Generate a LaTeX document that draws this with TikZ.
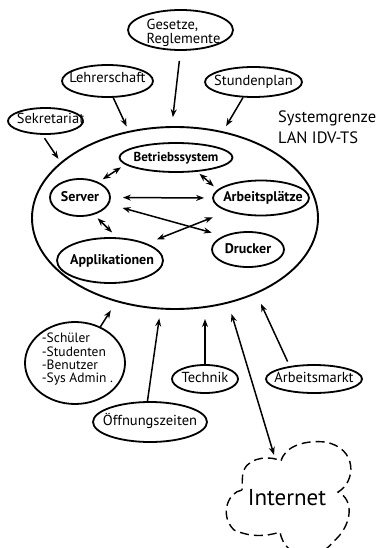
\documentclass[tikz,border=0pt]{standalone}
\usepackage{fontspec}
\setmainfont{PT Sans}
\usetikzlibrary{shapes.geometric,arrows.meta}
\newcommand\myofont{\fontsize{14.5}{14}\selectfont}
\newcommand\myifont{\fontsize{14}{14}\selectfont\bfseries}
\newcommand\myifontb{\fontsize{13}{14}\selectfont\bfseries}
\begin{document}
\begin{tikzpicture}[x=1pt,y=-1pt,
  bub/.style={ellipse, draw, line width=1.8pt, inner sep=0pt},
  lbl/.style={inner sep=0pt, text height=0.7em, text depth=0pt},
  olbl/.style={lbl, font=\myofont},
  ilbl/.style={lbl, font=\myifont},
  mlbl/.style={inner sep=0pt, align=left},
  arr/.style={line width=1.5pt, -{Stealth[length=8pt,width=6pt]}},
  dbl/.style={line width=1.5pt, {Stealth[length=8pt,width=6pt]}-{Stealth[length=8pt,width=6pt]}},
  cloudline/.style={line width=1.4pt, dash pattern=on 9pt off 5pt},
]
\useasboundingbox (0,0) rectangle (380,548);

% system boundary
\node[bub, line width=1.9pt, minimum width=286pt, minimum height=182pt] (main) at (175,218) {};

% inner nodes
\node[bub, minimum width=113pt, minimum height=29pt,
  label={[lbl, font=\myifontb]center:Betriebssystem}] (bet) at (176,157.5) {};
\node[bub, minimum width=60pt, minimum height=37pt,
  label={[ilbl]center:Server}] (srv) at (80,197.5) {};
\node[bub, minimum width=96pt, minimum height=35pt,
  label={[ilbl, xshift=2pt]center:Arbeitsplätze}] (arb) at (261,198) {};
\node[bub, minimum width=106pt, minimum height=45pt,
  label={[ilbl, xshift=2pt]center:Applikationen}] (app) at (110,260.5) {};
\node[bub, minimum width=72pt, minimum height=35pt,
  label={[ilbl]center:Drucker}] (dru) at (248,249.5) {};

% outer nodes
\node[bub, minimum width=105pt, minimum height=40pt,
  label={[mlbl, font=\myofont, xshift=3pt, yshift=-2.5pt]center:{Gesetze,\\Reglemente}}] (ges) at (180.5,30) {};
\node[bub, minimum width=91pt, minimum height=32pt,
  label={[olbl, yshift=1.5pt]center:Lehrerschaft}] (leh) at (107.5,81) {};
\node[bub, minimum width=97pt, minimum height=30pt,
  label={[olbl]center:Stundenplan}] (stu) at (253.5,82) {};
\node[bub, minimum width=75pt, minimum height=26pt,
  label={[olbl, xshift=5pt, yshift=1pt]center:Sekretariat}] (sek) at (45.5,121) {};
\node[bub, minimum width=100pt, minimum height=82pt,
  label={[mlbl, font=\fontsize{13.5}{13.3}\selectfont, xshift=2.5pt, yshift=3.5pt]center:{-Schüler\\-Studenten\\-Benutzer\\-Sys Admin .}}] (sch) at (75,363) {};
\node[bub, minimum width=114pt, minimum height=40pt,
  label={[olbl]center:Öffnungszeiten}] (off) at (150,422) {};
\node[bub, minimum width=66pt, minimum height=28pt,
  label={[olbl]center:Technik}] (tec) at (205,379) {};
\node[bub, minimum width=96pt, minimum height=28pt,
  label={[olbl]center:Arbeitsmarkt}] (arm) at (314,379) {};

% texts
\node[font=\fontsize{16.5}{21}\selectfont, align=left, anchor=north west, inner sep=0pt] (sysg) at (278,111) {Systemgrenze\\LAN IDV-TS};
\node[font=\fontsize{23}{24}\selectfont, inner sep=0pt] (inet) at (287,498) {Internet};

% cloud
\draw[cloudline] (242,490) .. controls (228,492) and (219,515) .. (234,530)
  .. controls (250,537) and (265,537) .. (280,532)
  .. controls (285,560) and (318,562) .. (333,542)
  .. controls (352,526) and (355,500) .. (338,492)
  .. controls (356,482) and (358,448) .. (325,442)
  .. controls (305,440) and (285,446) .. (281,461)
  .. controls (272,456) and (250,456) .. (244,470)
  .. controls (241,478) and (243,485) .. (242,490);

% inner connectors
\draw[dbl, shorten <=5pt, shorten >=5pt] (srv.40) -- (bet.188);
\draw[dbl, shorten <=3pt, shorten >=5pt] (bet.326) -- (arb.169);
\draw[dbl, shorten <=12pt, shorten >=8pt] (srv.0) -- (arb.180);
\draw[dbl, shorten <=14pt, shorten >=12pt] (srv.347) -- (dru.151);
\draw[dbl, shorten <=16pt, shorten >=11pt] (arb.202) -- (app.25);
\draw[dbl, shorten <=5pt, shorten >=7pt] (srv.309) -- (app.73);

% outer connectors
\draw[arr, shorten <=10pt, shorten >=9pt] (ges.270) -- (main.92);
\draw[arr, shorten >=5pt] (leh.289) -- (main.118);
\draw[arr, shorten >=6pt] (stu.236) -- (main.61);
\draw[arr, shorten <=4pt, shorten >=4pt] (sek.257) -- (main.154);
\draw[arr, shorten >=10pt] (sch.55) -- (main.235);
\draw[arr, shorten >=9pt] (off.97) -- (main.261);
\draw[arr, shorten >=11pt] (tec.north) -- (tec.north |- main.288);
\draw[arr, shorten <=5pt, shorten >=11pt] (arm.152) -- (main.317);
\draw[dbl, shorten <=11pt, shorten >=45pt] (main.302) -- (inet.center);
\end{tikzpicture}
\end{document}
